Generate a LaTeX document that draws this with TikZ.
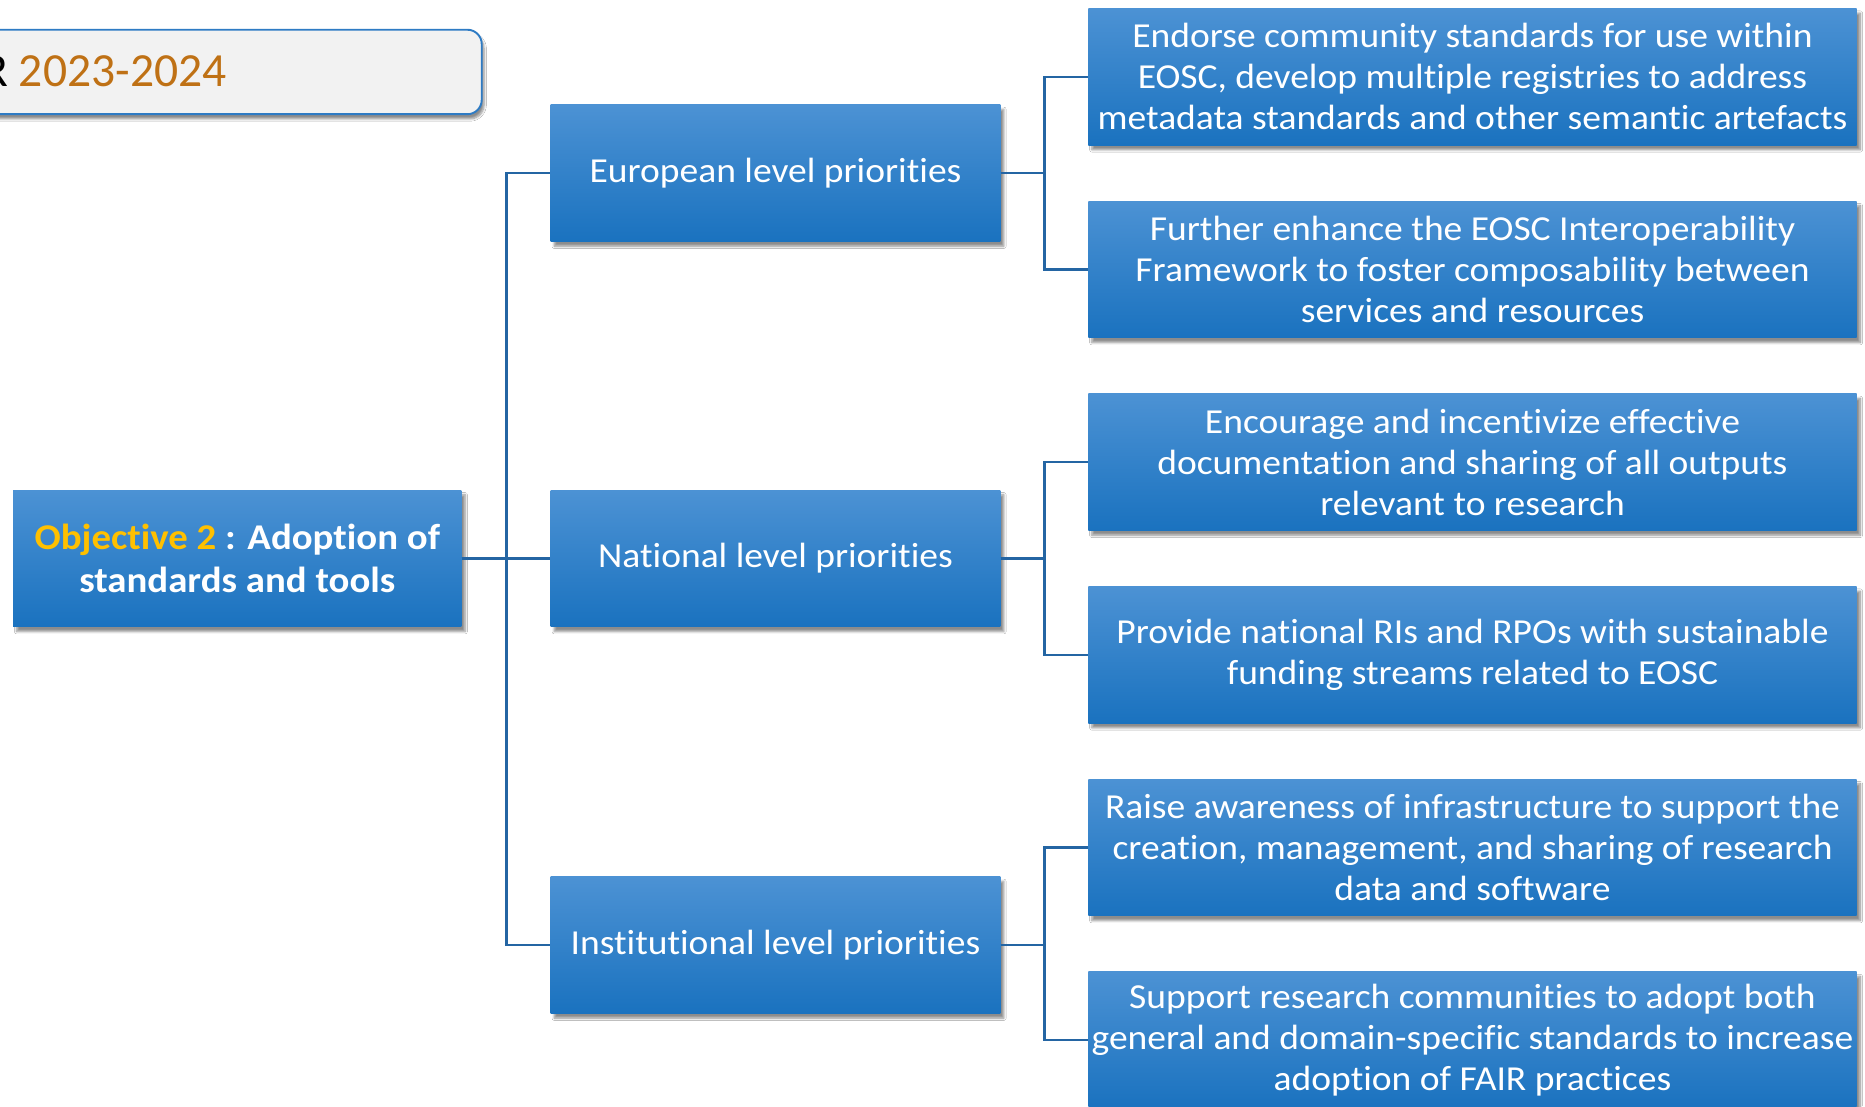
\documentclass[tikz,border=0pt]{standalone}
\usepackage{fontspec}
\setmainfont[Ligatures=NoCommon, FakeStretch=1.07]{Carlito}
\newfontfamily\bannerfont[Ligatures=NoCommon]{Carlito}
\usetikzlibrary{shadows.blur}
\definecolor{boxtop}{HTML}{4C92D4}
\definecolor{boxbot}{HTML}{1A72BF}
\definecolor{conncol}{HTML}{2465A3}
\definecolor{yeartext}{HTML}{BF7115}
\definecolor{goldtext}{HTML}{FFC000}
\definecolor{bannerfill}{HTML}{F2F2F2}
\definecolor{bannerline}{HTML}{2E7BC4}
\tikzset{
  bluebox/.style={rectangle, inner sep=0pt, top color=boxtop, bottom color=boxbot,
    text=white, align=center, font=\fontsize{29.5}{34.5}\selectfont,
    blur shadow={shadow xshift=3pt, shadow yshift=-4pt, shadow opacity=45, shadow blur steps=6}},
  midbox/.style={bluebox, minimum width=378pt, minimum height=115pt},
  leafbox/.style={bluebox, minimum width=646pt, minimum height=115pt},
  conn/.style={draw=conncol, line width=2pt}
}
\begin{document}
\begin{tikzpicture}[x=1pt,y=-1pt]
\useasboundingbox (0,0) rectangle (1568,930);
\fill[white] (0,0) rectangle (1568,930);
% banner
\node[rectangle, rounded corners=12pt, fill=bannerfill, draw=bannerline, line width=1.6pt,
  minimum width=445pt, minimum height=71pt, inner sep=0pt,
  blur shadow={shadow xshift=2pt, shadow yshift=-4pt, shadow opacity=45, shadow blur steps=6}]
  (banner) at (182.5,60.5) {};
\node[anchor=base west, inner sep=0pt, font=\bannerfont\fontsize{40}{48}\selectfont] (year) at (-15,73)
  {R {\color{yeartext}2023-2024}};
% objective
\node[midbox, minimum width=377pt, font=\bfseries\fontsize{30.5}{36}\selectfont] (obj) at (199.5,469.5)
  {{\color{goldtext}Objective 2} : Adoption of\\standards and tools};
% middle
\node[midbox] (eu) at (652,145.5) {European level priorities};
\node[midbox] (nat) at (652,469.5) {National level priorities};
\node[midbox] (inst) at (652,794.5) {Institutional level priorities};
% leaves
\node[leafbox] (r1) at (1238,64.5) {Endorse community standards for use within\\EOSC, develop multiple registries to address\\metadata standards and other semantic artefacts};
\node[leafbox] (r2) at (1238,226.5) {Further enhance the EOSC Interoperability\\Framework to foster composability between\\services and resources};
\node[leafbox] (r3) at (1238,388.5) {Encourage and incentivize effective\\documentation and sharing of all outputs\\relevant to research};
\node[leafbox] (r4) at (1238,550.5) {Provide national RIs and RPOs with sustainable\\funding streams related to EOSC};
\node[leafbox] (r5) at (1238,712.5) {Raise awareness of infrastructure to support the\\creation, management, and sharing of research\\data and software};
\node[leafbox] (r6) at (1238,874.5) {Support research communities to adopt both\\general and domain-specific standards to increase\\adoption of FAIR practices};
% connectors
\draw[conn] (obj.east) -- ++(37.5,0) |- (eu.west);
\draw[conn] (obj.east) -- ++(37.5,0) |- (inst.west);
\draw[conn] (obj.east) -- (nat.west);
\draw[conn] (eu.east) -- ++(37,0) |- (r1.west);
\draw[conn] (eu.east) -- ++(37,0) |- (r2.west);
\draw[conn] (nat.east) -- ++(37,0) |- (r3.west);
\draw[conn] (nat.east) -- ++(37,0) |- (r4.west);
\draw[conn] (inst.east) -- ++(37,0) |- (r5.west);
\draw[conn] (inst.east) -- ++(37,0) |- (r6.west);
\end{tikzpicture}
\end{document}
